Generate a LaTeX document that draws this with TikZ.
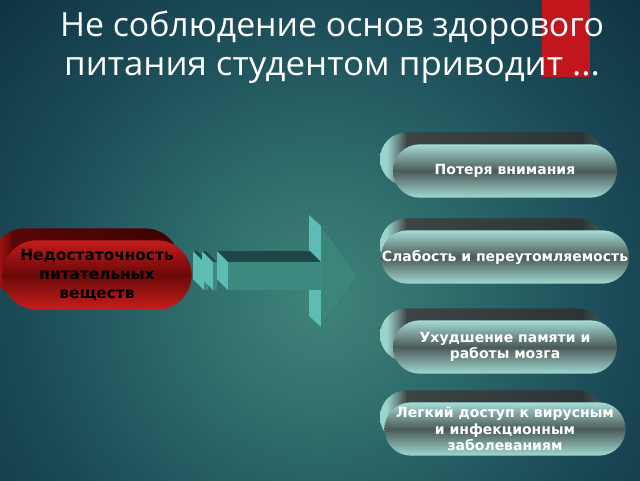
\documentclass[tikz,border=0pt]{standalone}
\usepackage{fontspec}
\setmainfont{DejaVu Sans}
\newfontfamily\titlefont{Open Sans}
\usetikzlibrary{shapes.misc}
\definecolor{bgc}{HTML}{40847A}
\definecolor{bgm}{HTML}{2D6B6B}
\definecolor{bgn}{HTML}{1B4A57}
\definecolor{bge}{HTML}{0F3443}
\definecolor{titlered}{HTML}{C0161C}
\definecolor{arrfront}{HTML}{3D8A80}
\definecolor{arrtop}{HTML}{1F4646}
\definecolor{arrside}{HTML}{5DBDB4}
\definecolor{arrhead}{HTML}{3C857A}
\definecolor{pfT}{HTML}{A7DCD7}
\definecolor{pfB}{HTML}{A0D8D1}
\definecolor{pfM}{HTML}{4B5A58}
\definecolor{pbL}{HTML}{9AD4CD}
\definecolor{pbM}{HTML}{3C4444}
\definecolor{pbR}{HTML}{2C3434}
\definecolor{rfT}{HTML}{C41C1C}
\definecolor{rfM}{HTML}{6B0909}
\definecolor{rfB}{HTML}{C81E1E}
\definecolor{rbL}{HTML}{B01515}
\definecolor{rbM}{HTML}{5A0505}
\definecolor{rbR}{HTML}{3E0202}
\pgfdeclareradialshading{bgshade}{\pgfpoint{0bp}{0bp}}{color(0bp)=(bgc); color(7bp)=(bgm); color(15bp)=(bgn); color(22bp)=(bge); color(50bp)=(bge)}
\pgfdeclarehorizontalshading{pillbackshade}{100bp}{color(0bp)=(pbL); color(25bp)=(pbL); color(26.5bp)=(pbL); color(31bp)=(pbM); color(70bp)=(pbR); color(75bp)=(pbR!75!pbL); color(100bp)=(pbR!75!pbL)}
\pgfdeclarehorizontalshading{redbackshade}{100bp}{color(0bp)=(rbL); color(25bp)=(rbL); color(26.5bp)=(rbL); color(31bp)=(rbM); color(75bp)=(rbR); color(100bp)=(rbR)}
\tikzset{
  front/.style={rounded rectangle, minimum width=168pt, minimum height=40pt, inner sep=0pt,
    top color=pfT, bottom color=pfB, middle color=pfM, align=center, text=white,
    font=\fontsize{10.5}{12.5}\selectfont\bfseries},
  back/.style={rounded rectangle, minimum width=168pt, minimum height=40pt, inner sep=0pt,
    shading=pillbackshade},
  redfront/.style={rounded rectangle, minimum width=142pt, minimum height=52pt, inner sep=0pt,
    top color=rfT, bottom color=rfB, middle color=rfM, align=center, text=black,
    font=\fontsize{11.5}{14}\selectfont\bfseries},
  redback/.style={rounded rectangle, minimum width=142pt, minimum height=52pt, inner sep=0pt,
    shading=redbackshade},
  titletext/.style={text=white, font=\titlefont\fontsize{25}{30}\selectfont, anchor=base, inner sep=0pt},
}
\begin{document}
\begin{tikzpicture}[x=0.75pt,y=-0.75pt]
\useasboundingbox (0,0) rectangle (640,480);
\begin{scope}
  \clip (0,0) rectangle (640,480);
  \fill[bge] (0,0) rectangle (640,480);
  \shade[shading=bgshade] (320,300) circle (500);
\end{scope}
% title
\fill[titlered] (542,0) rectangle (590,77);
\node[titletext] (t1) at (332,36) {\scalebox{1.015}[1]{Не соблюдение основ здорового}};
\node[titletext] (t2) at (332,75) {\scalebox{1.045}[1]{питания студентом приводит ...}};
% arrow
\fill[arrside] (309,215) -- (321,226) -- (321,327) -- (309,316) -- cycle;
\fill[arrhead] (321,226) -- (358,276) -- (321,327) -- cycle;
\draw[arrtop!70!arrhead, densely dotted, line width=0.4pt] (321,226) -- (358,276) -- (321,327);
% slice 1
\fill[arrtop] (193,251) -- (197,251) -- (208,262) -- (204,262) -- cycle;
\fill[arrside] (193,251) -- (204,262) -- (204,290) -- (193,279) -- cycle;
\fill[arrfront] (204,262) rectangle (208,290);
% slice 2
\fill[arrtop] (202,251) -- (206,251) -- (217,262) -- (213,262) -- cycle;
\fill[arrside] (202,251) -- (213,262) -- (213,290) -- (202,279) -- cycle;
\fill[arrfront] (213,262) rectangle (217,290);
% main shaft
\fill[arrtop] (217,251) -- (310,251) -- (321,262) -- (228,262) -- cycle;
\fill[arrside] (217,251) -- (228,262) -- (228,290) -- (217,279) -- cycle;
\fill[arrfront] (228,262) rectangle (321.5,290);
% source box
\node[redback] (srcback) at (85,263) {};
\node[redfront] (src) at (97,275) {Недостаточность\\питательных\\веществ};
% result boxes
\node[back] (r1back) at (492,159) {};
\node[front] (r1) at (505,171) {Потеря внимания};
\node[back] (r2back) at (492,245) {};
\node[front] (r2) at (505,257) {Слабость и переутомляемость};
\node[back] (r3back) at (492,335) {};
\node[front] (r3) at (505,347) {Ухудшение памяти и\\работы мозга};
\node[back] (r4back) at (492,417) {};
\node[front] (r4) at (505,429) {Легкий доступ к вирусным\\и инфекционным\\заболеваниям};
\end{tikzpicture}
\end{document}
